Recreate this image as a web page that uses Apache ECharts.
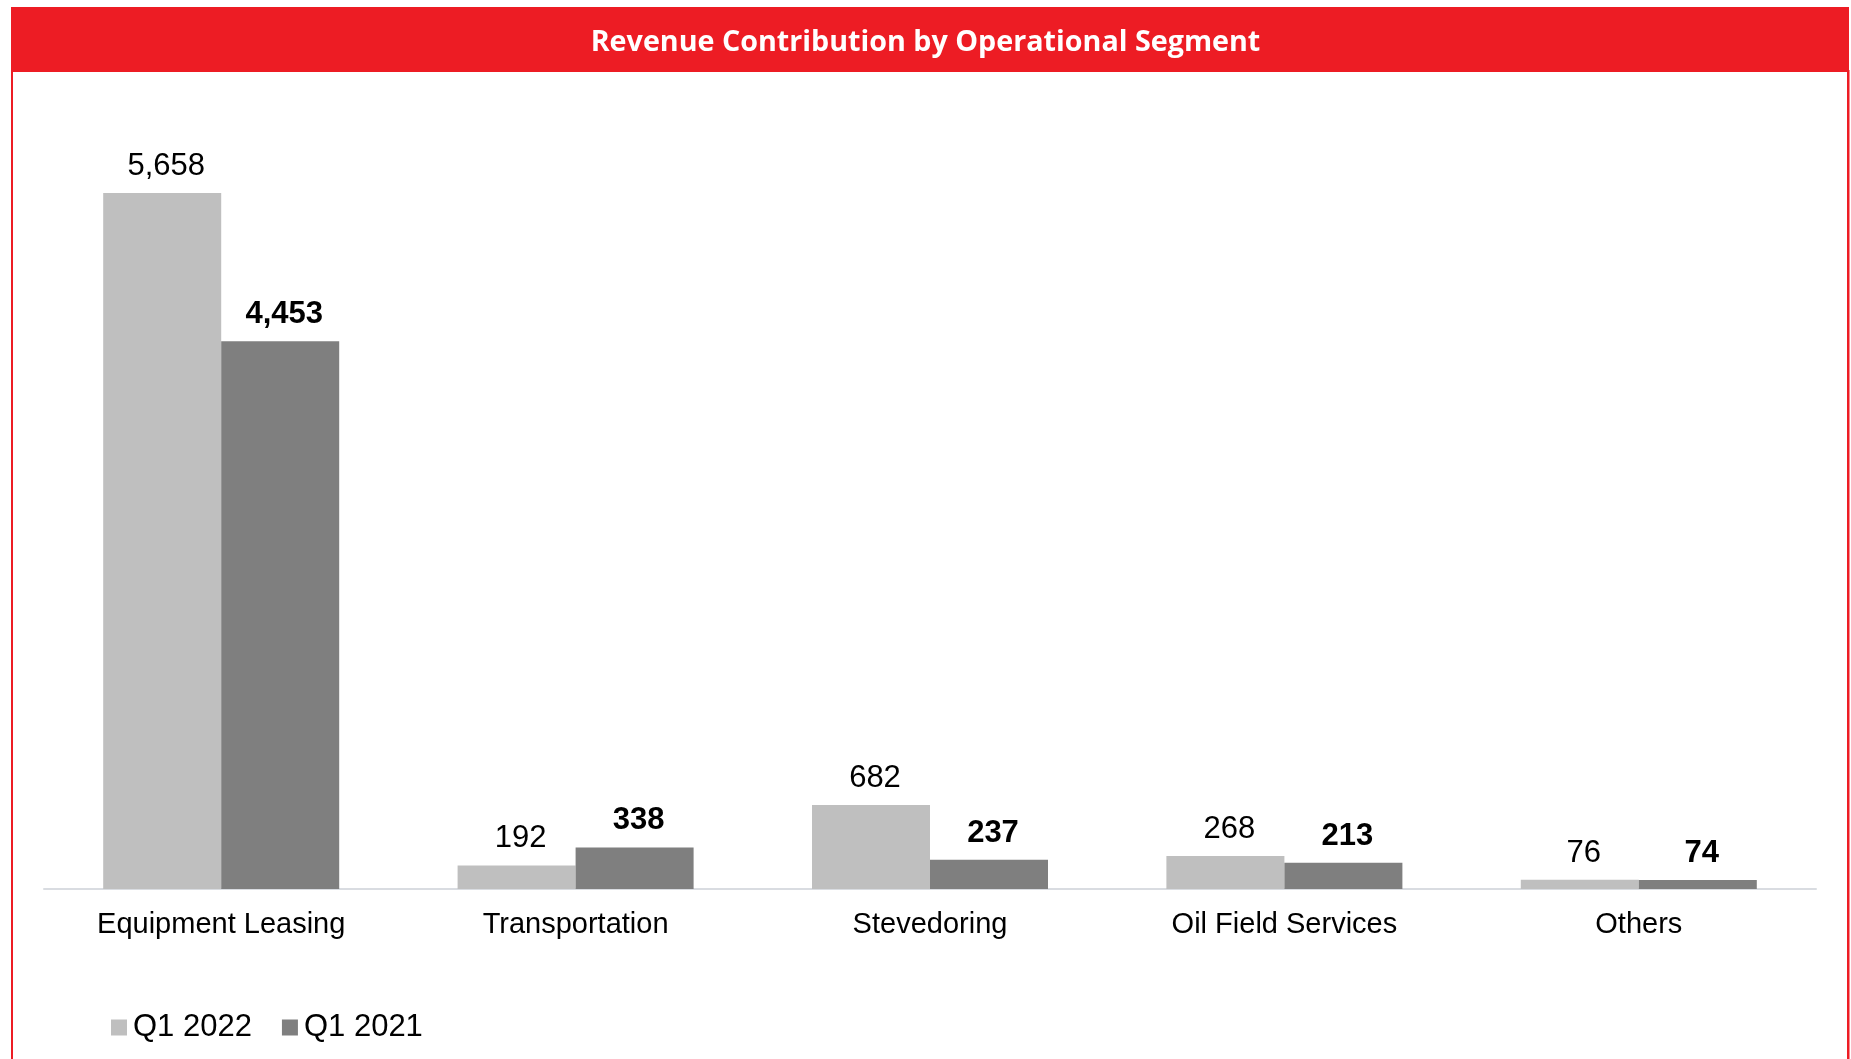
<!DOCTYPE html>
<html>
<head>
<meta charset="utf-8">
<script src="https://cdn.jsdelivr.net/npm/echarts@6/dist/echarts.min.js"></script>
<style>
  html, body { margin: 0; padding: 0; background: #fff; }
  #chart { width: 1851px; height: 1059px; }
</style>
</head>
<body>
<div id="chart"></div>
<script>
// Segment revenue, Q1 2022 vs Q1 2021 (values as printed on the bars)
const segments = ['Equipment Leasing', 'Transportation', 'Stevedoring', 'Oil Field Services', 'Others'];
const q1_2022 = [5658, 192, 682, 268, 76];
const q1_2021 = [4453, 338, 237, 213, 74];
const seriesNames = ['Q1 2022', 'Q1 2021'];

const RED = '#ED1C24';
const LIGHT = '#BFBFBF', DARK = '#7F7F7F';
const fmt = (v) => v.toLocaleString('en-US');

const chart = echarts.init(document.getElementById('chart'), null, { renderer: 'canvas' });

chart.setOption({
  animation: false,
  backgroundColor: '#fff',
  title: {
    text: 'Revenue Contribution by Operational Segment',
    left: 'center', top: 28, padding: 0,
    textStyle: { fontFamily: 'Open Sans', fontWeight: 'bold', fontSize: 28.7, color: '#fff' },
  },
  // frame: red header band + thin red side borders
  graphic: [
    { type: 'rect', z: -1, shape: { x: 11, y: 7, width: 1838, height: 65 }, style: { fill: RED } },
    { type: 'rect', z: -1, shape: { x: 11, y: 70, width: 2, height: 990 }, style: { fill: RED } },
    { type: 'rect', z: -1, shape: { x: 1847, y: 70, width: 2.5, height: 990 }, style: { fill: RED } },
  ],
  legend: {
    data: seriesNames,
    left: 106, top: 1007,
    icon: 'rect', itemWidth: 16, itemHeight: 16, itemGap: 30,
    textStyle: { fontFamily: 'Liberation Sans', fontSize: 31, color: '#000', padding: [0, 0, 0, 1] },
  },
  grid: { left: 44, right: 35, top: 151, bottom: 170 },
  xAxis: {
    type: 'category', data: segments,
    axisLine: { lineStyle: { color: '#D9DCE1', width: 2 } },
    axisTick: { show: false },
    axisLabel: { fontFamily: 'Liberation Sans', fontSize: 29, color: '#000', margin: 21 },
  },
  yAxis: { type: 'value', min: 0, max: 6000, show: false, splitLine: { show: false } },
  series: [
    {
      name: seriesNames[0], type: 'bar', data: q1_2022, barWidth: 118, barGap: '0%',
      itemStyle: { color: LIGHT },
      label: { show: true, position: 'top', distance: 11, offset: [4, 0], fontFamily: 'Liberation Sans', fontSize: 31, color: '#000',
        formatter: (p) => fmt(p.value) },
    },
    {
      name: seriesNames[1], type: 'bar', data: q1_2021, barWidth: 118,
      itemStyle: { color: DARK },
      label: { show: true, position: 'top', distance: 11, offset: [4, 0], fontFamily: 'Liberation Sans', fontWeight: 'bold', fontSize: 31, color: '#000',
        formatter: (p) => fmt(p.value) },
    },
  ],
});
</script>
</body>
</html>
